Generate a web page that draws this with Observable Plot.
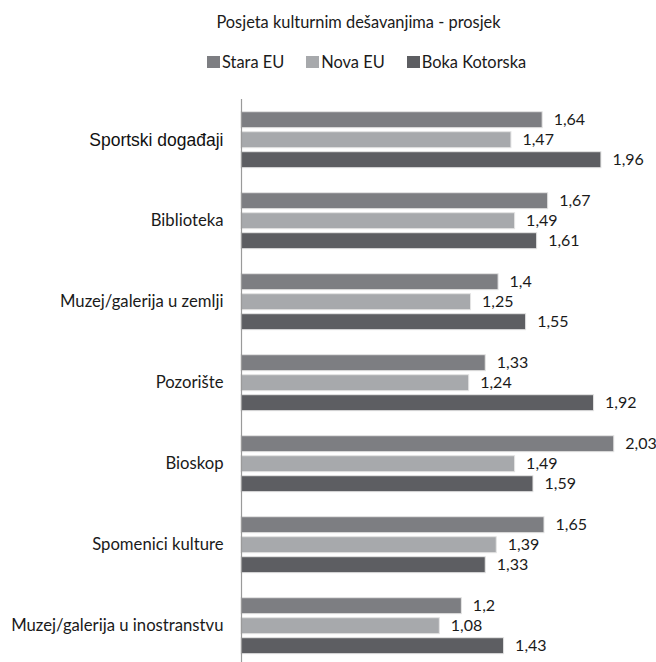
<!DOCTYPE html>
<html>
<head>
<meta charset="utf-8">
<script src="https://cdn.jsdelivr.net/npm/d3@7"></script>
<script src="https://cdn.jsdelivr.net/npm/@observablehq/plot@0.6"></script>
<style>
  html, body { margin: 0; padding: 0; background: #fff; }
  #wrap { position: relative; width: 656px; height: 662px; overflow: hidden; font-family: Lato, "Open Sans", sans-serif; color: #1a1a1a; }
  #title { position: absolute; top: 12px; left: 358.5px; transform: translateX(-50%); white-space: nowrap; font-size: 16.4px; line-height: 20px; }
  #legend { position: absolute; top: 52px; left: 207px; display: flex; align-items: center; font-size: 16.4px; line-height: 20px; white-space: nowrap; }
  .item { display: flex; align-items: center; margin-right: 22px; }
  .sw { width: 13px; height: 12px; margin-right: 2px; }
  #chart { position: absolute; top: 80px; left: 0; }
</style>
</head>
<body>
<div id="wrap">
  <div id="title"></div>
  <div id="legend"></div>
  <div id="chart"></div>
</div>
<script>
const title = "Posjeta kulturnim dešavanjima - prosjek";
const categories = ["Sportski događaji", "Biblioteka", "Muzej/galerija u zemlji", "Pozorište", "Bioskop", "Spomenici kulture", "Muzej/galerija u inostranstvu"];
const series = ["Stara EU", "Nova EU", "Boka Kotorska"];
const staraEU = [1.64, 1.67, 1.4, 1.33, 2.03, 1.65, 1.2];
const novaEU = [1.47, 1.49, 1.25, 1.24, 1.49, 1.39, 1.08];
const bokaKotorska = [1.96, 1.61, 1.55, 1.92, 1.59, 1.33, 1.43];
const colors = ["#7d7e82", "#a7a9ac", "#5d5e62"];

const valuesBySeries = [staraEU, novaEU, bokaKotorska];
const data = [];
categories.forEach((c, i) => {
  series.forEach((s, j) => {
    data.push({category: c, series: s, value: valuesBySeries[j][i]});
  });
});
const fmt = v => String(v).replace(".", ",");

document.getElementById("title").textContent = title;
const legend = document.getElementById("legend");
series.forEach((s, j) => {
  const item = document.createElement("div");
  item.className = "item";
  const sw = document.createElement("span");
  sw.className = "sw";
  sw.style.background = colors[j];
  const lab = document.createElement("span");
  lab.textContent = s;
  item.appendChild(sw);
  item.appendChild(lab);
  legend.appendChild(item);
});

const chart = Plot.plot({
  width: 656,
  height: 588,
  marginTop: 16.3,
  marginBottom: 0,
  marginLeft: 241,
  marginRight: 11,
  style: {fontFamily: "Lato, 'Open Sans', sans-serif", fontSize: "16px", color: "#1a1a1a", background: "white"},
  x: {domain: [0, 2.2], axis: null},
  y: {domain: series, axis: null, paddingInner: 0.22, paddingOuter: 0.59},
  fy: {domain: categories, axis: null, padding: 0},
  color: {domain: series, range: colors},
  marks: [
    Plot.barX(data, {x: "value", y: "series", fy: "category", fill: "series", stroke: "#e4e4e4", strokeWidth: 1}),
    Plot.text(data, {x: "value", y: "series", fy: "category", text: d => fmt(d.value), textAnchor: "start", dx: 11, fontSize: 16, fill: "#1a1a1a"}),
    Plot.text(categories.slice(0, 1), {fy: d => d, text: d => d, frameAnchor: "left", textAnchor: "end", dx: -18, fontFamily: "'Liberation Sans', Arial, sans-serif", fontSize: 17.5, fill: "#111"}),
    Plot.text(categories.slice(1), {fy: d => d, text: d => d, frameAnchor: "left", textAnchor: "end", dx: -18, fontSize: 16.7, fill: "#1a1a1a"}),
    Plot.ruleX([0], {stroke: "#9a9a9a", strokeWidth: 1.2})
  ]
});
document.getElementById("chart").appendChild(chart);
</script>
</body>
</html>
